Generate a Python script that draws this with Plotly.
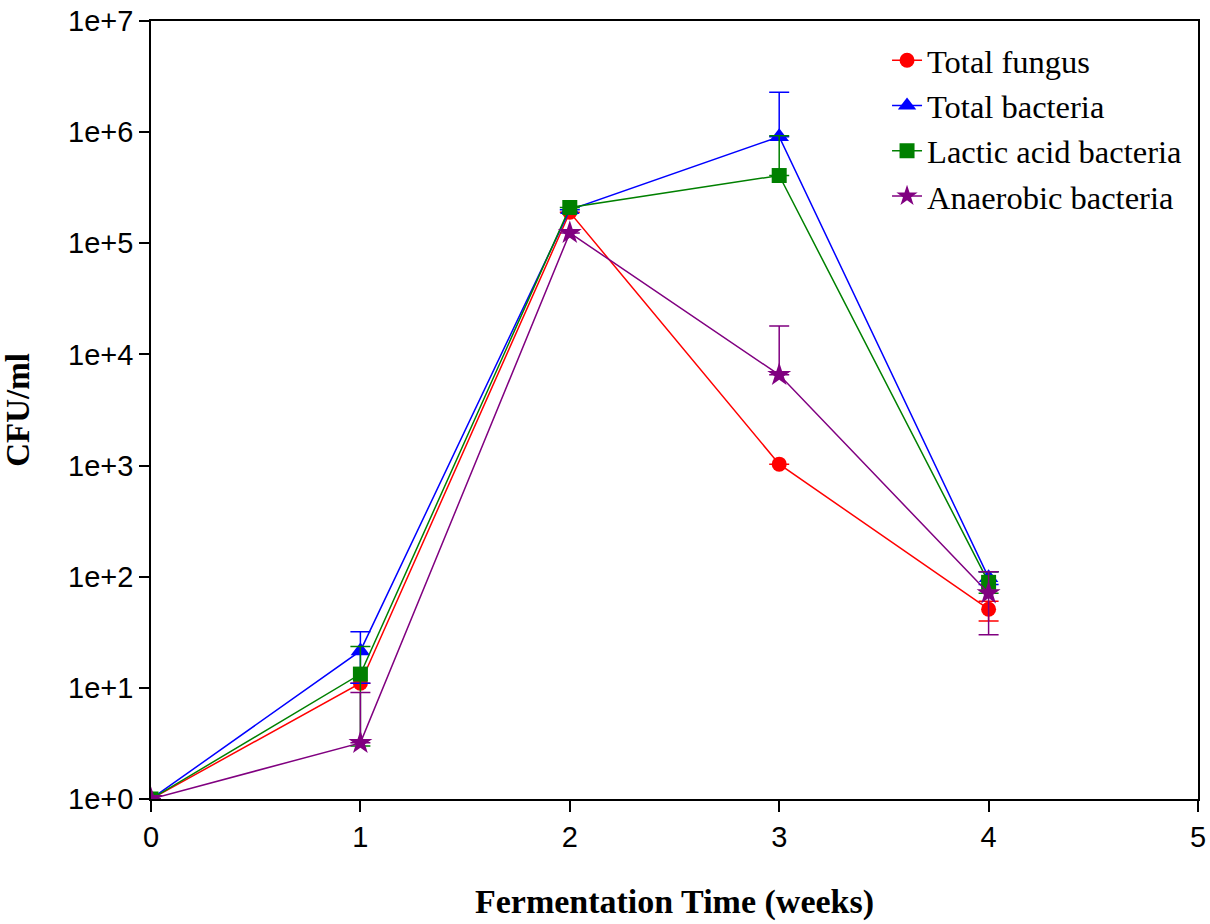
import plotly.graph_objects as go

weeks = [0, 1, 2, 3, 4]

fungus = [1.0, 11.0, 190000, 1030, 51]
fungus_up = [0, 0, 0, 0, 9]
fungus_dn = [0, 0, 0, 0, 11]

bacteria = [1.0, 21.5, 200000, 910000, 98]
bacteria_up = [0, 10.5, 0, 1380000, 13]
bacteria_dn = [0, 10.5, 0, 0, 13]

lactic = [1.0, 13.3, 210000, 407000, 89]
lactic_up = [0, 10.3, 0, 520000, 22]
lactic_dn = [0, 10.3, 0, 0, 18]

anaerobic = [1.0, 3.2, 124000, 6550, 71]
anaerobic_up = [0, 5.9, 0, 11500, 40]
anaerobic_dn = [0, 0, 0, 0, 41]

y_tickvals = [1, 10, 100, 1e3, 1e4, 1e5, 1e6, 1e7]
y_ticktext = ["1e+0", "1e+1", "1e+2", "1e+3", "1e+4", "1e+5", "1e+6", "1e+7"]
x_tickvals = [0, 1, 2, 3, 4, 5]

series = [
    ("Total fungus", fungus, fungus_up, fungus_dn, "#ff0000", "circle", 15),
    ("Total bacteria", bacteria, bacteria_up, bacteria_dn, "#0000ff", "triangle-up", 17),
    ("Lactic acid bacteria", lactic, lactic_up, lactic_dn, "#008000", "square", 15),
    ("Anaerobic bacteria", anaerobic, anaerobic_up, anaerobic_dn, "#800080", "star", 18),
]

fig = go.Figure()
for name, vals, up, dn, col, sym, sz in series:
    fig.add_trace(go.Scatter(
        x=weeks, y=vals, name=name, mode="lines+markers",
        line=dict(color=col, width=1.5),
        marker=dict(symbol=sym, size=sz, color=col, line=dict(width=0)),
        error_y=dict(type="data", symmetric=False, array=up, arrayminus=dn,
                     color=col, thickness=1.5, width=10, visible=True),
    ))

fig.update_layout(
    width=1210, height=924,
    paper_bgcolor="white", plot_bgcolor="white",
    margin=dict(l=151, r=12, t=21, b=125, autoexpand=False),
    showlegend=True,
    legend=dict(x=0.703, y=0.985, xanchor="left", yanchor="top",
                font=dict(family="Liberation Serif", size=32.5, color="black"),
                bgcolor="rgba(0,0,0,0)", tracegroupgap=0),
    xaxis=dict(range=[0, 5], tickvals=x_tickvals, ticks="outside", ticklen=11,
               tickwidth=1.5, tickcolor="black", showline=True, linecolor="black",
               linewidth=1.5, mirror=True, showgrid=False, zeroline=False,
               tickfont=dict(family="Liberation Sans", size=29, color="black"),
               title=dict(text="<b>Fermentation Time (weeks)</b>", standoff=38,
                          font=dict(family="Liberation Serif", size=34, color="black"))),
    yaxis=dict(type="log", range=[0, 7], tickvals=y_tickvals, ticktext=y_ticktext,
               ticks="outside", ticklen=10, tickwidth=1.5, tickcolor="black",
               showline=True, linecolor="black", linewidth=1.5, mirror=True,
               showgrid=False, zeroline=False,
               tickfont=dict(family="Liberation Sans", size=29, color="black"),
               title=dict(text="<b>CFU/ml</b>", standoff=56,
                          font=dict(family="Liberation Serif", size=33, color="black"))),
)

fig.write_html("out.html")
